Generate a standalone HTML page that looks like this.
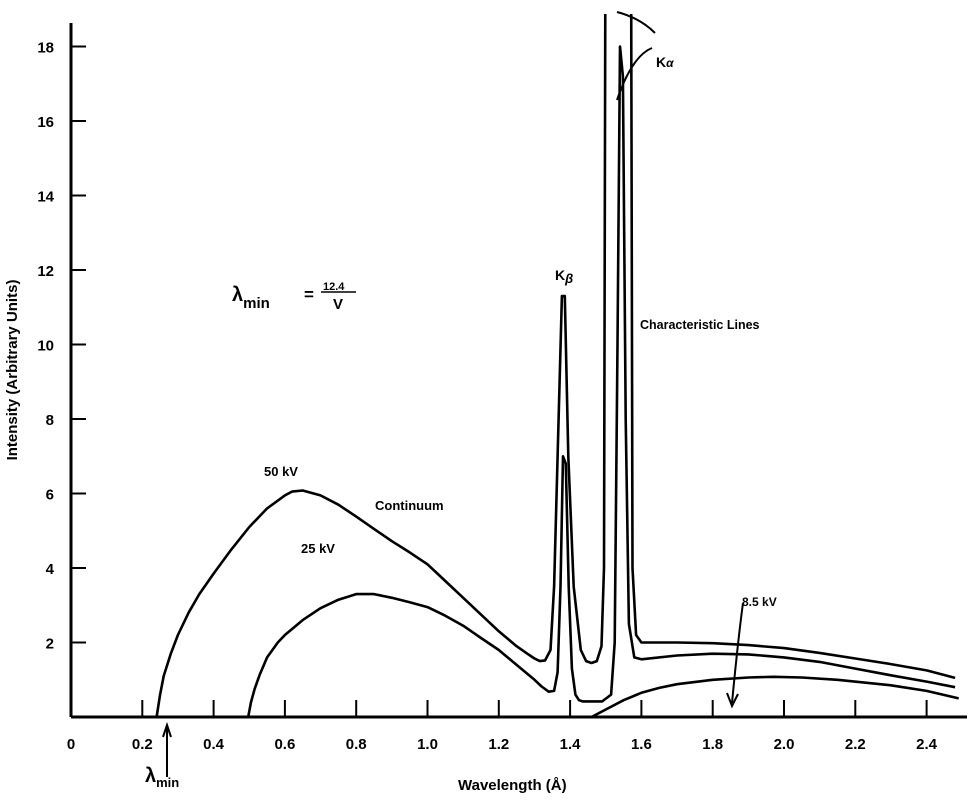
<!DOCTYPE html>
<html><head><meta charset="utf-8"><style>
html,body{margin:0;padding:0;background:#fff;}
svg{display:block;}
text{font-family:"Liberation Sans",sans-serif;font-weight:bold;fill:#000;}
</style></head><body>
<svg id="chart" width="969" height="804" viewBox="0 0 969 804">
<defs><clipPath id="plotclip"><rect x="60" y="14" width="909" height="710"/></clipPath></defs>
<g id="axes"></g>
<g id="series" clip-path="url(#plotclip)"></g>
<g>
<text x="232" y="301" font-size="20" font-weight="normal">λ<tspan font-size="15" dy="7" font-weight="bold">min</tspan></text>
<text x="304" y="300" font-size="17">=</text>
<text x="323" y="290" font-size="11">12.4</text>
<line x1="321" y1="292" x2="356" y2="292" stroke="#000" stroke-width="1.5"/>
<text x="333" y="309" font-size="15">V</text>
<text x="264" y="476" font-size="13">50 kV</text>
<text x="375" y="510" font-size="13">Continuum</text>
<text x="301" y="553" font-size="13">25 kV</text>
<text x="555" y="280" font-size="14">K<tspan font-style="italic" font-size="13" dy="3">β</tspan></text>
<text x="656" y="67" font-size="14">K<tspan font-style="italic" font-size="12">α</tspan></text>
<text x="640" y="329" font-size="12.5">Characteristic Lines</text>
<text x="742" y="606" font-size="12">8.5 kV</text>
<path d="M655,33 Q640,18 617,12" fill="none" stroke="#000" stroke-width="2"/>
<path d="M652,48 Q632,56 617,100" fill="none" stroke="#000" stroke-width="2"/>
<path d="M743,603 Q738,640 732,703" fill="none" stroke="#000" stroke-width="2"/>
<path d="M727,693 L732,706 L738,694" fill="none" stroke="#000" stroke-width="2"/>
<line x1="167" y1="777" x2="167" y2="727" stroke="#000" stroke-width="2"/>
<path d="M163,737 L167,725 L171,737" fill="none" stroke="#000" stroke-width="2"/>
<text x="145" y="782" font-size="20" font-weight="normal">λ<tspan font-size="13" dy="5" font-weight="bold">min</tspan></text>
<text x="458" y="790" font-size="15">Wavelength (Å)</text>
<text transform="translate(17,370) rotate(-90)" text-anchor="middle" font-size="15">Intensity (Arbitrary Units)</text>
</g>
</svg>
<script>
const xTicks = [0.2,0.4,0.6,0.8,1.0,1.2,1.4,1.6,1.8,2.0,2.2,2.4];
const xTickLabels = ["0","0.2","0.4","0.6","0.8","1.0","1.2","1.4","1.6","1.8","2.0","2.2","2.4"];
const yTicks = [2,4,6,8,10,12,14,16,18];
const yTickLabels = ["2","4","6","8","10","12","14","16","18"];
const lambda50 = [0.24,0.25,0.26,0.28,0.3,0.33,0.36,0.4,0.45,0.5,0.55,0.6,0.62,0.65,0.7,0.75,0.8,0.85,0.9,0.95,1.0,1.05,1.1,1.15,1.2,1.25,1.28,1.3,1.315,1.33,1.345,1.355,1.365,1.377,1.385,1.395,1.41,1.43,1.445,1.46,1.475,1.488,1.495,1.5,1.57,1.575,1.585,1.6,1.7,1.8,1.9,2.0,2.1,2.2,2.3,2.4,2.48];
const intensity50 = [0,0.6,1.1,1.7,2.2,2.8,3.3,3.85,4.5,5.1,5.6,5.95,6.05,6.08,5.95,5.7,5.38,5.05,4.72,4.42,4.1,3.65,3.2,2.75,2.3,1.9,1.7,1.57,1.5,1.52,1.8,3.5,7,11.3,11.3,7,3.5,1.8,1.5,1.45,1.5,1.9,4,25,25,4,2.2,2.0,2.0,1.98,1.93,1.85,1.72,1.57,1.42,1.25,1.05];
const lambda25 = [0.497,0.505,0.515,0.53,0.55,0.58,0.6,0.65,0.7,0.75,0.8,0.85,0.9,0.95,1.0,1.05,1.1,1.15,1.2,1.25,1.3,1.32,1.34,1.355,1.365,1.373,1.38,1.388,1.396,1.405,1.415,1.425,1.435,1.45,1.49,1.515,1.525,1.533,1.54,1.548,1.556,1.565,1.58,1.6,1.7,1.8,1.9,2.0,2.1,2.2,2.3,2.4,2.48];
const intensity25 = [0,0.4,0.75,1.15,1.6,2.0,2.2,2.6,2.92,3.15,3.3,3.3,3.2,3.08,2.95,2.72,2.45,2.12,1.8,1.4,1.0,0.82,0.68,0.7,1.2,3.5,7.0,6.8,3.5,1.3,0.6,0.45,0.42,0.42,0.42,0.6,2,10,18.0,17.2,8,2.5,1.6,1.55,1.65,1.7,1.68,1.6,1.48,1.3,1.12,0.95,0.8];
const lambda8 = [1.46,1.5,1.55,1.6,1.65,1.7,1.8,1.9,1.97,2.05,2.15,2.3,2.4,2.49];
const intensity8 = [0,0.2,0.45,0.65,0.78,0.88,1.0,1.06,1.08,1.06,1.0,0.85,0.7,0.5];

const NS="http://www.w3.org/2000/svg";
const X0=71, XS=356.5, Y0=717, YS=37.25;
function xScale(v){return X0+v*XS;}
function yScale(v){return Y0-v*YS;}
const axes=document.getElementById('axes');
function mk(tag,attrs,parent){const e=document.createElementNS(NS,tag);for(const k in attrs)e.setAttribute(k,attrs[k]);parent.appendChild(e);return e;}
const xAxis=mk('line',{x1:X0,y1:Y0,x2:967,y2:Y0,stroke:'#000','stroke-width':3},axes);


const yAxis=mk('line',{x1:X0,y1:Y0,x2:X0,y2:23,stroke:'#000','stroke-width':3},axes);


xTicks.forEach(function(t){
  const l=mk('line',{x1:xScale(t),y1:Y0,x2:xScale(t),y2:Y0-17,stroke:'#000','stroke-width':2},axes);
  
  
});
xTickLabels.forEach(function(s,i){
  const tx=mk('text',{x:xScale(i*0.2),y:749,'text-anchor':'middle','font-size':15},axes);
  tx.textContent=s;
  
  
});
yTicks.forEach(function(t,i){
  const l=mk('line',{x1:X0,y1:yScale(t),x2:X0+15,y2:yScale(t),stroke:'#000','stroke-width':2},axes);
  
  
  const tx=mk('text',{x:54,y:yScale(t)+6,'text-anchor':'end','font-size':15},axes);
  tx.textContent=yTickLabels[i];
  
  
});
const series=document.getElementById('series');
function drawLine(xs,ys,name){
  let d='';
  xs.forEach(function(v,i){d+=(i?'L':'M')+xScale(v).toFixed(1)+','+yScale(ys[i]).toFixed(1);});
  const p=mk('path',{d:d,fill:'none',stroke:'#000','stroke-width':2.6,'stroke-linejoin':'round'},series);
  
  
}
drawLine(lambda50,intensity50,'curve-50kv');
drawLine(lambda25,intensity25,'curve-25kv');
drawLine(lambda8,intensity8,'curve-8-5kv');
</script>
</body></html>
